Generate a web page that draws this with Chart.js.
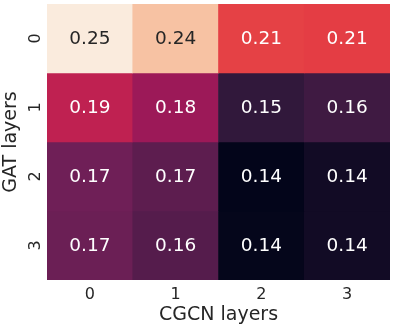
<!DOCTYPE html>
<html>
<head>
<meta charset="utf-8">
<script src="https://cdn.jsdelivr.net/npm/chart.js@4/dist/chart.umd.min.js"></script>
<style>
  html, body { margin: 0; padding: 0; background: #fff; }
  #wrap { width: 400px; height: 328px; position: relative; }
</style>
</head>
<body>
<div id="wrap"><canvas id="heat"></canvas></div>
<script>
// heatmap data: rows = GAT layers, columns = CGCN layers
const cgcnLabels = ["0", "1", "2", "3"];
const gatLabels = ["0", "1", "2", "3"];
const row0 = [0.252, 0.240, 0.207, 0.206];
const row1 = [0.193, 0.183, 0.154, 0.158];
const row2 = [0.171, 0.166, 0.139, 0.144];
const row3 = [0.170, 0.164, 0.1395, 0.144];
const rows = [row0, row1, row2, row3];

// rocket colormap stops
const rocket = [
  [0, [3, 5, 26]], [1/7, [53, 25, 62]], [2/7, [112, 31, 87]], [3/7, [173, 23, 89]],
  [4/7, [225, 51, 66]], [5/7, [243, 118, 81]], [6/7, [246, 180, 143]], [1, [250, 235, 221]]
];
const all = rows.flat();
const vmin = Math.min(...all), vmax = Math.max(...all);

function cmap(v) {
  let t = (v - vmin) / (vmax - vmin);
  t = Math.max(0, Math.min(1, t));
  for (let i = 1; i < rocket.length; i++) {
    if (t <= rocket[i][0]) {
      const [t0, c0] = rocket[i - 1], [t1, c1] = rocket[i];
      const f = (t - t0) / (t1 - t0);
      return c0.map((c, k) => Math.round(c + (c1[k] - c) * f));
    }
  }
  return rocket[rocket.length - 1][1];
}
function lum(rgb) {
  const l = rgb.map(c => { c /= 255; return c <= 0.03928 ? c / 12.92 : Math.pow((c + 0.055) / 1.055, 2.4); });
  return 0.2126 * l[0] + 0.7152 * l[1] + 0.0722 * l[2];
}
const rgbStr = c => `rgb(${c[0]},${c[1]},${c[2]})`;

const datasets = rows.map((vals, r) => ({
  label: "GAT " + gatLabels[r],
  data: vals.map(() => [r, r + 1]),
  values: vals,
  backgroundColor: vals.map(v => rgbStr(cmap(v))),
  borderWidth: 0,
  borderSkipped: false,
  grouped: false,
  barPercentage: 1,
  categoryPercentage: 1
}));

const cellText = {
  id: "cellText",
  afterDatasetsDraw(chart) {
    const ctx = chart.ctx;
    ctx.save();
    ctx.font = "18.5px 'DejaVu Sans'";
    ctx.textAlign = "center";
    ctx.textBaseline = "middle";
    chart.data.datasets.forEach((ds, i) => {
      chart.getDatasetMeta(i).data.forEach((el, j) => {
        const v = ds.values[j];
        ctx.fillStyle = lum(cmap(v)) > 0.408 ? "#262626" : "#ffffff";
        ctx.fillText(v.toFixed(2), el.x, (el.y + el.base) / 2 + 1);
      });
    });
    ctx.restore();
  }
};

new Chart(document.getElementById("heat"), {
  type: "bar",
  data: { labels: cgcnLabels, datasets: datasets },
  options: {
    responsive: true,
    maintainAspectRatio: false,
    animation: false,
    layout: { padding: { left: 0, top: 4, right: 10, bottom: 0 } },
    plugins: { legend: { display: false }, tooltip: { enabled: false } },
    scales: {
      x: {
        grid: { display: false },
        border: { display: false },
        ticks: { color: "#262626", font: { family: "DejaVu Sans", size: 16 }, padding: -3 },
        title: { display: true, text: "CGCN layers", color: "#262626",
                 font: { family: "DejaVu Sans", size: 19 }, padding: { top: 0, bottom: 2 } },
        afterFit(scale) {
          scale.height = 48;
          scale.paddingLeft = 0; scale.paddingRight = 0;
        }
      },
      y: {
        min: 0, max: 4, reverse: true,
        grid: { display: false },
        border: { display: false },
        afterBuildTicks(scale) { scale.ticks = gatLabels.map((_, i) => ({ value: i + 0.5 })); },
        ticks: {
          color: "#262626", font: { family: "DejaVu Sans", size: 16 },
          minRotation: 90, maxRotation: 90, crossAlign: "center", padding: -2,
          callback: v => gatLabels[Math.floor(v)]
        },
        title: { display: true, text: "GAT layers", color: "#262626",
                 font: { family: "DejaVu Sans", size: 19 }, padding: { top: 0, bottom: 0 } },
        afterFit(scale) {
          scale.width = 47;
          scale.paddingTop = 0; scale.paddingBottom = 0;
        }
      }
    }
  },
  plugins: [cellText]
});
</script>
</body>
</html>
